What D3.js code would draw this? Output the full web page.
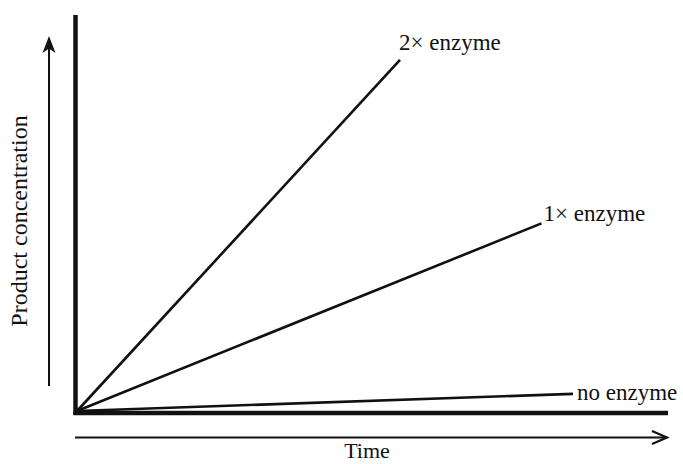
<!DOCTYPE html>
<html>
<head>
<meta charset="utf-8">
<script src="https://cdn.jsdelivr.net/npm/d3@7"></script>
<style>
  html, body { margin: 0; padding: 0; background: #fff; }
  svg { display: block; }
  text { font-family: "Liberation Serif", "Times New Roman", serif; fill: #111; }
</style>
</head>
<body>
<svg id="chart" width="683" height="464"></svg>
<script>
// ---- data (arbitrary units, schematic chart) ----
const seriesNames = ["2\u00d7 enzyme", "1\u00d7 enzyme", "no enzyme"];
const seriesTime = [[0, 6.46], [0, 9.29], [0, 9.92]];
const seriesConc = [[0, 10.03], [0, 5.36], [0, 0.49]];
const xAxisLabel = "Time";
const yAxisLabel = "Product concentration";

// ---- layout ----
const svg = d3.select("#chart");
const x = d3.scaleLinear().domain([0, 10]).range([77, 577]);
const y = d3.scaleLinear().domain([0, 10]).range([411, 61]);

const ink = "#111";

// axes (thick lines, no ticks)
svg.append("line").attr("x1", 75.5).attr("x2", 75.5).attr("y1", 15).attr("y2", 415)
  .attr("stroke", ink).attr("stroke-width", 4.5);
svg.append("line").attr("x1", 73.5).attr("x2", 668).attr("y1", 413).attr("y2", 413)
  .attr("stroke", ink).attr("stroke-width", 4.5);

// series lines
const line = d3.line().x(d => x(d[0])).y(d => y(d[1]));
const labelOffsets = [[-1, -10], [2, -2], [4, 6]];
seriesNames.forEach((name, i) => {
  const pts = seriesTime[i].map((t, j) => [t, seriesConc[i][j]]);
  svg.append("path").attr("d", line(pts)).attr("fill", "none")
    .attr("stroke", ink).attr("stroke-width", 2.6).attr("stroke-linecap", "butt");
  const end = pts[pts.length - 1];
  svg.append("text")
    .attr("x", x(end[0]) + labelOffsets[i][0])
    .attr("y", y(end[1]) + labelOffsets[i][1])
    .attr("font-size", 23)
    .text(name);
});

// vertical arrow (filled head)
svg.append("line").attr("x1", 49).attr("x2", 49).attr("y1", 386).attr("y2", 44)
  .attr("stroke", ink).attr("stroke-width", 2);
svg.append("path").attr("d", "M49,36 L55.5,53 L49,48.5 L42.5,53 Z").attr("fill", ink);

// horizontal arrow (open chevron head)
svg.append("line").attr("x1", 75).attr("x2", 666).attr("y1", 437.5).attr("y2", 437.5)
  .attr("stroke", ink).attr("stroke-width", 2);
svg.append("path").attr("d", "M652,431 L667,437.5 L652,444").attr("fill", "none")
  .attr("stroke", ink).attr("stroke-width", 2.2).attr("stroke-linejoin", "miter");

// axis titles
svg.append("text").attr("x", 367).attr("y", 458).attr("text-anchor", "middle")
  .attr("font-size", 22).text(xAxisLabel);
svg.append("text").attr("transform", "translate(27,221) rotate(-90)")
  .attr("text-anchor", "middle").attr("font-size", 24).text(yAxisLabel);
</script>
</body>
</html>
